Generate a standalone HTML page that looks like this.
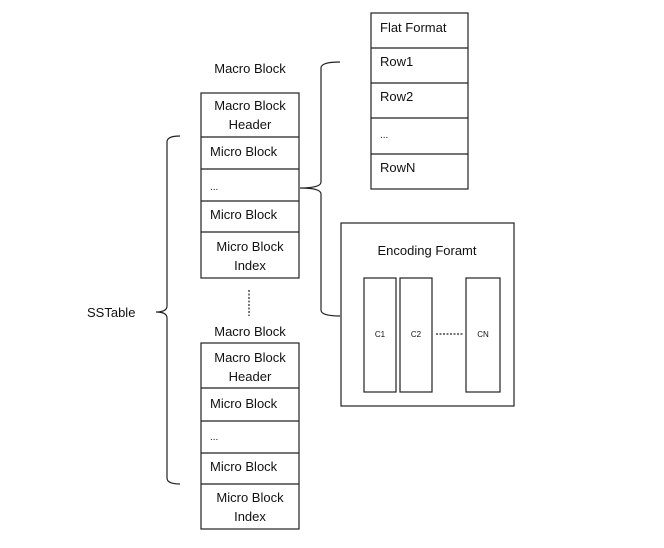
<!DOCTYPE html>
<html><head><style>
body{margin:0;background:#fff;}
svg text{font-family:"Liberation Sans",sans-serif;fill:#111;}
</style></head><body>
<svg width="664" height="543" viewBox="0 0 664 543" xmlns="http://www.w3.org/2000/svg">
<g fill="none" stroke="#222" stroke-width="1.2">
<rect x="201" y="93" width="98" height="185"/>
<line x1="201" y1="137" x2="299" y2="137"/>
<line x1="201" y1="169" x2="299" y2="169"/>
<line x1="201" y1="201" x2="299" y2="201"/>
<line x1="201" y1="232" x2="299" y2="232"/>
<rect x="201" y="343" width="98" height="186"/>
<line x1="201" y1="388" x2="299" y2="388"/>
<line x1="201" y1="421" x2="299" y2="421"/>
<line x1="201" y1="453" x2="299" y2="453"/>
<line x1="201" y1="484" x2="299" y2="484"/>
<rect x="371" y="13" width="97" height="176"/>
<line x1="371" y1="48" x2="468" y2="48"/>
<line x1="371" y1="83" x2="468" y2="83"/>
<line x1="371" y1="118" x2="468" y2="118"/>
<line x1="371" y1="154" x2="468" y2="154"/>
<rect x="341" y="223" width="173" height="183"/>
<rect x="364" y="278" width="32" height="114"/>
<rect x="400" y="278" width="32" height="114"/>
<rect x="466" y="278" width="34" height="114"/>
<line x1="436" y1="334" x2="463" y2="334" stroke-dasharray="2,1.5"/>
<line x1="249" y1="290" x2="249" y2="316" stroke-dasharray="2,1.5"/>
<path d="M180 136 Q167 136 167 142 L167 306 Q167 312 156 312 Q167 312 167 318 L167 478 Q167 484 180 484"/>
<path d="M340 62 Q321 62 321 68 L321 182 Q321 188 300 188 Q321 188 321 194 L321 310 Q321 316 340 316"/>
</g>
<g font-size="13" text-anchor="middle">
<text x="250" y="73">Macro Block</text>
<text x="250" y="336">Macro Block</text>
<text x="250" y="110">Macro Block</text>
<text x="250" y="129">Header</text>
<text x="250" y="362">Macro Block</text>
<text x="250" y="381">Header</text>
<text x="250" y="251">Micro Block</text>
<text x="250" y="270">Index</text>
<text x="250" y="502">Micro Block</text>
<text x="250" y="521">Index</text>
<text x="427" y="255">Encoding Foramt</text>
</g>
<g font-size="13">
<text x="210" y="156">Micro Block</text>
<text x="210" y="219">Micro Block</text>
<text x="210" y="408">Micro Block</text>
<text x="210" y="471">Micro Block</text>
<text x="210" y="190" font-size="10">...</text>
<text x="210" y="440" font-size="10">...</text>
<text x="380" y="32">Flat Format</text>
<text x="380" y="66">Row1</text>
<text x="380" y="101">Row2</text>
<text x="380" y="138" font-size="10">...</text>
<text x="380" y="172">RowN</text>
<text x="87" y="317">SSTable</text>
</g>
<g font-size="8" text-anchor="middle">
<text x="380" y="337">C1</text>
<text x="416" y="337">C2</text>
<text x="483" y="337">CN</text>
</g>
</svg>
</body></html>
